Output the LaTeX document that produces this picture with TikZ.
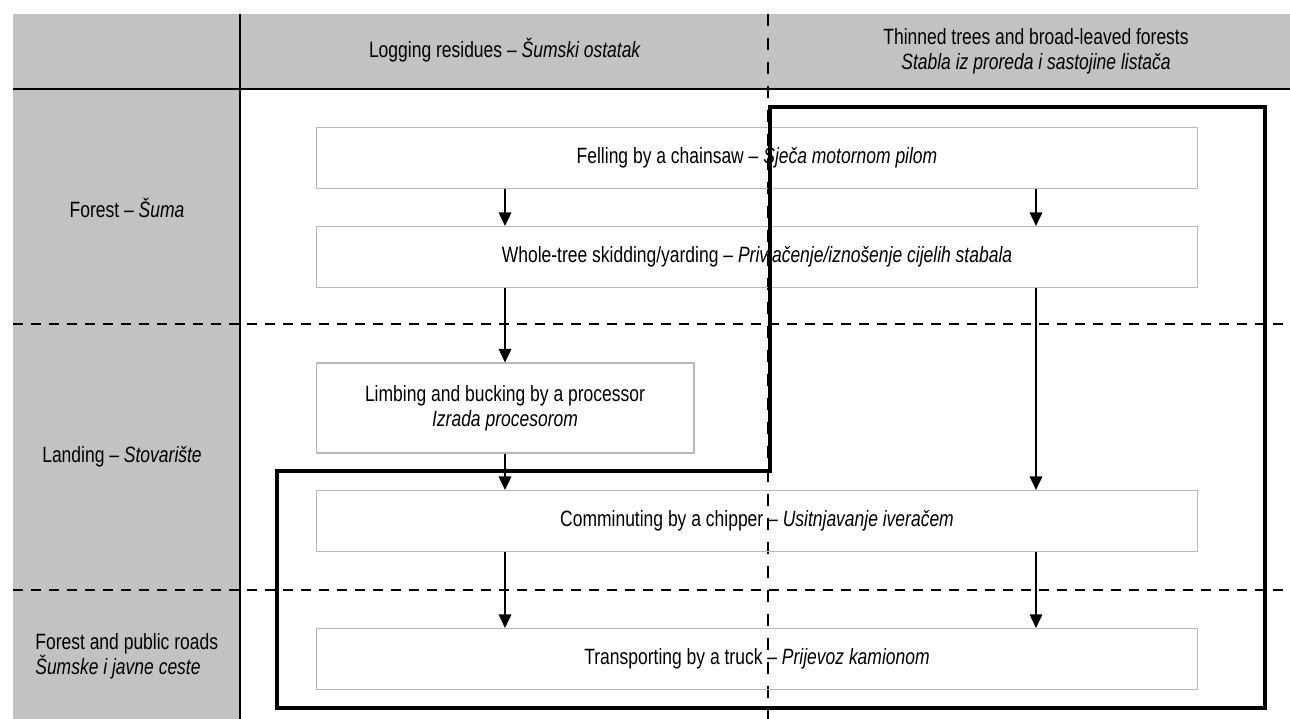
\documentclass[tikz,border=0pt]{standalone}
\usepackage{fontspec}
\setmainfont[FakeStretch=0.79]{Liberation Sans}
\usetikzlibrary{positioning}
\usetikzlibrary{arrows.meta}
\definecolor{headgray}{gray}{0.76}
\definecolor{boxgray}{gray}{0.72}
\tikzset{
    stepbox/.style = {rectangle, draw=boxgray, line width=0.6pt, align=center, inner sep=0pt},
    widebox/.style = {stepbox, minimum width=17.64cm, minimum height=1.22cm},
    label/.style = {align=center, inner sep=0pt},
    zoneline/.style = {line width=0.85pt, dash pattern=on 0.2cm off 0.16cm},
    colline/.style = {line width=0.85pt, dash pattern=on 0.24cm off 0.24cm},
    gridline/.style = {line width=1.1pt},
    edgen/.style = {-{Triangle[length=0.27cm,width=0.25cm]}, line width=0.9pt},
    chainframe/.style = {line width=1.8pt, line join=miter},
}

\begin{document}
\begin{tikzpicture}[x=0.02cm, y=-0.02cm, font=\fontsize{12.6}{14}\selectfont]
\useasboundingbox (0,0) rectangle (1290,719);
% grey head row and zone column
\fill[headgray] (13,14) rectangle (1290,89);
\fill[headgray] (13,89) rectangle (240,719);
\draw[gridline] (13,89) -- (1290,89);
\draw[gridline] (240,14) -- (240,719);
\draw[zoneline] (13,324) -- (1290,324);
\draw[zoneline] (13,590) -- (1290,590);
\draw[colline] (768,14) -- (768,719);
%
\node[label] at (505,50) (hres) {Logging residues -- \textit{Šumski ostatak}};
\node[label] at (1036,51) (htree) {Thinned trees and broad-leaved forests\\\textit{Stabla iz proreda i sastojine listača}};
\node[label] at (127,208) (zforest) {Forest -- \textit{Šuma}};
\node[label] at (122,457) (zlanding) {Landing -- \textit{Stovarište}};
\node[label, align=left, anchor=west] at (35,656) (zroads) {Forest and public roads\\\textit{Šumske i javne ceste}};
%
\node[widebox] at (757,158) (fell) {Felling by a chainsaw -- \textit{Sječa motornom pilom}};
\node[widebox] at (757,257) (skid) {Whole-tree skidding/yarding -- \textit{Privlačenje/iznošenje cijelih stabala}};
\node[stepbox, minimum width=7.56cm, minimum height=1.8cm] at (505,408) (proc) {Limbing and bucking by a processor\\\textit{Izrada procesorom}};
\node[widebox] at (757,521) (chip) {Comminuting by a chipper -- \textit{Usitnjavanje iveračem}};
\node[widebox] at (757,659) (truck) {Transporting by a truck -- \textit{Prijevoz kamionom}};
\coordinate (lcol) at (505,0);
\coordinate (rcol) at (1036,0);
%
\draw[edgen] (fell.south -| lcol) -- (skid.north -| lcol);
\draw[edgen] (fell.south -| rcol) -- (skid.north -| rcol);
\draw[edgen] (skid.south -| lcol) -- (proc.north -| lcol);
\draw[edgen] (skid.south -| rcol) -- (chip.north -| rcol);
\draw[edgen] (proc.south -| lcol) -- (chip.north -| lcol);
\draw[edgen] (chip.south -| lcol) -- (truck.north -| lcol);
\draw[edgen] (chip.south -| rcol) -- (truck.north -| rcol);
% frame round the tree chain
\draw[chainframe] (770,107) -- (1265,107) -- (1265,708) -- (277,708) -- (277,471) -- (770,471) -- cycle;

\end{tikzpicture}
\end{document}
